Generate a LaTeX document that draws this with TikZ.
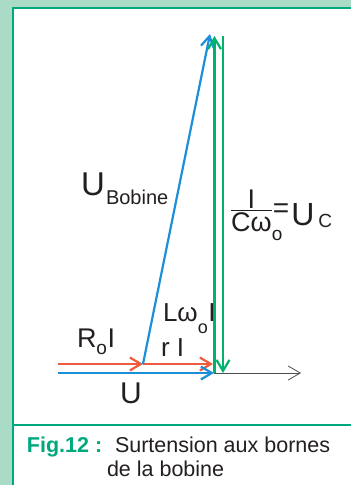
\documentclass[tikz,border=0pt]{standalone}
\usepackage{amsmath}
\usepackage{fontspec}
\setmainfont{Liberation Sans}
\usetikzlibrary{arrows.meta}
\definecolor{mint}{HTML}{A9DBC7}
\definecolor{frame}{HTML}{00A87E}
\definecolor{vred}{HTML}{EF5B3E}
\definecolor{vblue}{HTML}{1B8FD8}
\definecolor{vgreen}{HTML}{00B26B}
\definecolor{ink}{HTML}{231F20}
\newcommand{\fs}[1]{\fontsize{#1}{#1}\selectfont}
\tikzset{
  vec/.style={line width=2.2pt,-{Straight Barb[length=11pt,width=13pt,line width=2.2pt]}},
  axisline/.style={line width=0.8pt,draw=ink!80,-{Straight Barb[length=12pt,width=14pt,line width=0.8pt]}},
  lbl/.style={inner sep=0pt,outer sep=0pt,anchor=base west,text=ink},
}
\begin{document}
\begin{tikzpicture}[x=1pt,y=-1pt]
\useasboundingbox (0,0) rectangle (351,485);
% background and panel
\fill[mint] (0,0) rectangle (351,485);
\fill[white] (13,8) rectangle (351,485);
\draw[frame,line width=1.6pt] (13,485) -- (13,8) -- (351,8);
\draw[frame,line width=1.6pt] (13,425) -- (351,425);
% points
\coordinate (A) at (58,364);
\coordinate (B) at (143,364);
\coordinate (C) at (213,364);
\coordinate (U0) at (58,373);
\coordinate (U1) at (214,373);
\coordinate (X1) at (301,373);
\coordinate (T) at (210,34);
\coordinate (G0) at (214.5,373);
\coordinate (G1) at (214.5,36);
\coordinate (H0) at (223,36);
\coordinate (H1) at (223,373);
% vectors
\draw[axisline] (U1) -- (X1);
\draw[vec,vred] (A) -- (B);
\draw[vec,vred] (B) -- (C);
\draw[vec,vblue] (U0) -- (U1);
\draw[vec,vblue] (B) -- (T);
\draw[vec,vgreen] (G0) -- (G1);
\draw[vec,vgreen] (H0) -- (H1);
% labels
\node[lbl] (ub) at (81,195) {\fs{33}U};
\node[lbl] (ubs) at (106,204) {\fs{20}Bobine};
\node[lbl] (uc) at (230,213) {\color{ink}$\genfrac{}{}{1.3pt}{}{\mbox{\fs{27}I}}{\mbox{\fs{27}Cω\rlap{\raisebox{-9pt}{\fs{19}o}}}}$\raisebox{-4pt}{\fs{28}=}\kern2pt\raisebox{-12pt}{\fs{32}U\kern4pt\raisebox{-2pt}{\fs{19}C}}};
\node[lbl] (r) at (77,347) {\fs{27}R\raisebox{-7pt}{\fs{19}o}\kern0.5ptI};
\node[lbl] (rI) at (161,356) {\fs{26}r I};
\node[lbl] (lw) at (163,321) {\fs{26}Lω\raisebox{-12pt}{\fs{18}o}\kern0.5ptI};
\node[lbl] (u) at (120,403) {\fs{30}U};
% caption
\node[lbl,text=frame,font=\bfseries] (fig) at (27,452) {\fs{21.5}Fig.12 :};
\node[lbl] (cap1) at (115,452) {\fs{21.5}Surtension aux bornes};
\node[lbl] (cap2) at (107,476) {\fs{21.5}de la bobine};
\end{tikzpicture}
\end{document}
